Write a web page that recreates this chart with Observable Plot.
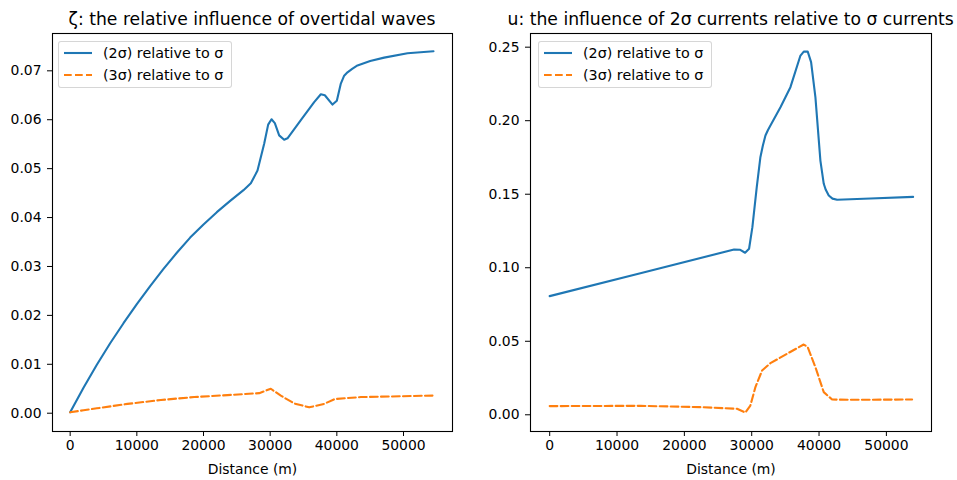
<!DOCTYPE html>
<html>
<head>
<meta charset="utf-8">
<script src="https://cdn.jsdelivr.net/npm/d3@7"></script>
<script src="https://cdn.jsdelivr.net/npm/@observablehq/plot@0.6"></script>
<style>
  html, body { margin: 0; padding: 0; background: #fff; }
  #fig { position: relative; width: 957px; height: 480px; font-family: "DejaVu Sans", sans-serif; color: #000; overflow: hidden; }
  .panel { position: absolute; top: 0; }
  .title { position: absolute; top: 10.5px; width: 600px; text-align: center; font-size: 17.2px; line-height: 17.2px; white-space: nowrap; }
  .legend { position: absolute; top: 40.5px; height: 47px; box-sizing: border-box;
            border: 1px solid rgba(204,204,204,0.8); border-radius: 3px; background: rgba(255,255,255,0.8); }
  .legend .row { position: absolute; left: 0; height: 20px; display: flex; align-items: center; font-size: 14.3px; white-space: nowrap; }
  .legend svg { display: block; margin-left: 4px; margin-right: 10px; }
</style>
</head>
<body>
<div id="fig"></div>
<script>
// Distance along the channel (m) and the relative amplitudes of the overtides.
// ζ panel: water level
const zetaDist2 = [0, 2000, 4000, 6000, 8000, 10000, 12000, 14000, 16000, 18000, 20000, 22000, 24000, 26000, 27100, 28100, 29100, 29700, 30200, 30700, 31350, 32100, 32600, 34600, 36600, 37600, 38200, 39350, 40000, 40600, 41100, 41600, 42300, 43100, 45000, 47100, 50600, 54500];
const zeta2 = [0.0002, 0.0052, 0.0099, 0.0143, 0.0184, 0.0223, 0.0260, 0.0295, 0.0328, 0.0359, 0.0386, 0.0411, 0.0434, 0.0456, 0.0470, 0.0496, 0.0551, 0.0590, 0.0601, 0.0593, 0.0568, 0.0559, 0.0562, 0.0599, 0.0636, 0.0652, 0.0650, 0.0631, 0.0639, 0.0674, 0.0690, 0.0697, 0.0704, 0.0711, 0.0720, 0.0727, 0.0736, 0.0740];
const zetaDist3 = [0, 2000, 4000, 8600, 13600, 18600, 23600, 28350, 30100, 31600, 33600, 35850, 38100, 39700, 43600, 54350];
const zeta3 = [0.0002, 0.0006, 0.0010, 0.0019, 0.0027, 0.0033, 0.0037, 0.0041, 0.0050, 0.0036, 0.0020, 0.0012, 0.0019, 0.0029, 0.0033, 0.0036];

// u panel: currents
const uDist2 = [0, 13470, 27380, 28300, 29020, 29610, 30100, 30750, 31290, 31650, 32040, 32400, 32780, 34270, 35750, 37240, 37730, 38320, 38820, 39460, 40200, 40700, 41000, 41440, 42000, 42690, 47630, 53970];
const u2 = [0.0807, 0.0963, 0.1124, 0.1122, 0.1102, 0.1129, 0.1276, 0.1548, 0.1752, 0.1830, 0.1899, 0.1935, 0.1967, 0.2092, 0.2228, 0.2443, 0.2470, 0.2470, 0.2398, 0.2160, 0.1729, 0.1571, 0.1530, 0.1491, 0.1470, 0.1462, 0.1471, 0.1482];
const uDist3 = [0, 13470, 22380, 27820, 29060, 29800, 30550, 31540, 32780, 35250, 37720, 38320, 39460, 40700, 41940, 44400, 53820];
const u3 = [0.0059, 0.0061, 0.0052, 0.0041, 0.0015, 0.0063, 0.0188, 0.0301, 0.0351, 0.0415, 0.0478, 0.0460, 0.0324, 0.0154, 0.0104, 0.0102, 0.0104];

const xTicks = [0, 10000, 20000, 30000, 40000, 50000];
const zetaTicks = [0, 0.01, 0.02, 0.03, 0.04, 0.05, 0.06, 0.07];
const uTicks = [0, 0.05, 0.10, 0.15, 0.20, 0.25];

const seriesNames = ["(2σ) relative to σ", "(3σ) relative to σ"];
const titles = ["ζ: the relative influence of overtidal waves", "u: the influence of 2σ currents relative to σ currents"];

const BLUE = "#1f77b4", ORANGE = "#ff7f0e";
const DASH = "7.7,3.3";
const toRows = (xs, ys) => xs.map((d, i) => ({d, v: ys[i]}));

function panel({width, xDomain, yDomain, yTicks, s2, s3}) {
  return Plot.plot({
    width, height: 480,
    marginLeft: 52, marginRight: 26, marginTop: 33, marginBottom: 49,
    style: {fontFamily: "DejaVu Sans, sans-serif", fontSize: "13.9px", color: "#000", background: "transparent", overflow: "visible"},
    x: {domain: xDomain, ticks: xTicks, tickFormat: "d", tickSize: 5, tickPadding: 4,
        label: "Distance (m)", labelAnchor: "center", labelOffset: 42, labelArrow: "none"},
    y: {domain: yDomain, ticks: yTicks, tickFormat: ".2f", tickSize: 5, tickPadding: 6, label: null},
    marks: [
      Plot.line(s2, {x: "d", y: "v", stroke: BLUE, strokeWidth: 2.1, strokeLinejoin: "round"}),
      Plot.line(s3, {x: "d", y: "v", stroke: ORANGE, strokeWidth: 2.1, strokeDasharray: DASH, strokeLinejoin: "round"}),
      Plot.frame({stroke: "#000", strokeWidth: 1.1})
    ]
  });
}

const fig = document.getElementById("fig");
const layout = [
  {left: 0, width: 478, xDomain: [-2650, 57350], yDomain: [-0.00374, 0.07763], yTicks: zetaTicks,
   s2: toRows(zetaDist2, zeta2), s3: toRows(zetaDist3, zeta3), center: 252, legendLeft: 58},
  {left: 478, width: 479, xDomain: [-2850, 56700], yDomain: [-0.01136, 0.2593], yTicks: uTicks,
   s2: toRows(uDist2, u2), s3: toRows(uDist3, u3), center: 730.7, legendLeft: 538}
];

layout.forEach((p, i) => {
  const wrap = document.createElement("div");
  wrap.className = "panel";
  wrap.style.left = p.left + "px";
  wrap.appendChild(panel(p));
  fig.appendChild(wrap);

  const t = document.createElement("div");
  t.className = "title";
  t.style.left = (p.center - 300) + "px";
  t.textContent = titles[i];
  fig.appendChild(t);

  const lg = document.createElement("div");
  lg.className = "legend";
  lg.style.left = p.legendLeft + "px";
  lg.style.width = "174px";
  [[BLUE, null], [ORANGE, DASH]].forEach(([color, dash], k) => {
    const row = document.createElement("div");
    row.className = "row";
    row.style.top = (k === 0 ? 1.5 : 23.2) + "px";
    const s = d3.create("svg").attr("width", 30).attr("height", 20);
    s.append("line").attr("x1", 1).attr("x2", 29).attr("y1", 10).attr("y2", 10)
      .attr("stroke", color).attr("stroke-width", 2.1).attr("stroke-dasharray", dash);
    row.appendChild(s.node());
    const label = document.createElement("span");
    label.textContent = seriesNames[k];
    row.appendChild(label);
    lg.appendChild(row);
  });
  fig.appendChild(lg);
});
</script>
</body>
</html>
